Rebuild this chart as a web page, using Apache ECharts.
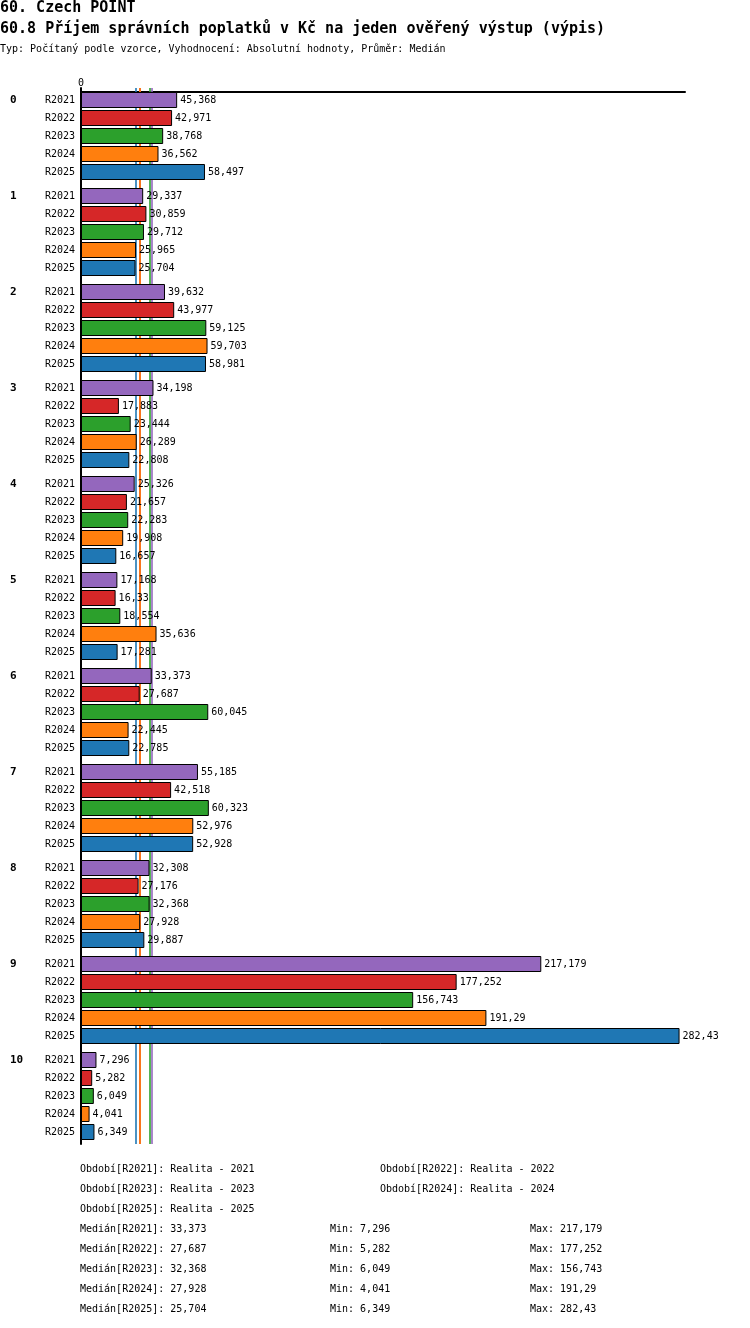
<!DOCTYPE html>
<html><head><meta charset="utf-8">
<script src="https://cdn.jsdelivr.net/npm/echarts@6/dist/echarts.min.js"></script>
<style>html,body{margin:0;padding:0;background:#fff}#c{width:750px;height:1328px}</style>
</head><body><div id="c"></div>
<script>
const categories = ['0','1','2','3','4','5','6','7','8','9','10'];
const periods = ['R2021','R2022','R2023','R2024','R2025'];
const periodNames = ['Realita - 2021','Realita - 2022','Realita - 2023','Realita - 2024','Realita - 2025'];
const r2021 = [45.368, 29.337, 39.632, 34.198, 25.326, 17.168, 33.373, 55.185, 32.308, 217.179, 7.296];
const r2022 = [42.971, 30.859, 43.977, 17.883, 21.657, 16.33, 27.687, 42.518, 27.176, 177.252, 5.282];
const r2023 = [38.768, 29.712, 59.125, 23.444, 22.283, 18.554, 60.045, 60.323, 32.368, 156.743, 6.049];
const r2024 = [36.562, 25.965, 59.703, 26.289, 19.908, 35.636, 22.445, 52.976, 27.928, 191.29, 4.041];
const r2025 = [58.497, 25.704, 58.981, 22.808, 16.657, 17.281, 22.785, 52.928, 29.887, 282.43, 6.349];
const seriesValues = [r2021, r2022, r2023, r2024, r2025];
const colors = ['#9467bd','#d62728','#2ca02c','#ff7f0e','#1f77b4'];
const titleText = '60. Czech POINT';
const subtitleText = '60.8 Příjem správních poplatků v Kč na jeden ověřený výstup (výpis)';
const infoText = 'Typ: Počítaný podle vzorce, Vyhodnocení: Absolutní hodnoty, Průměr: Medián';

const MONO = '"DejaVu Sans Mono", "Liberation Mono", monospace';
const fmt = v => String(v).replace('.', ',');
const median = a => { const s = a.slice().sort((x,y)=>x-y); return s[Math.floor(s.length/2)]; };
const stats = seriesValues.map(a => ({ med: median(a), min: Math.min(...a), max: Math.max(...a) }));

const series = [];
periods.forEach((p, i) => {
  series.push({
    type: 'line', name: p + '_median', data: [], z: 1, silent: true,
    markLine: {
      silent: true, symbol: ['none', 'none'], z: 1,
      label: { show: false },
      lineStyle: { color: colors[i], width: 1.6, type: 'solid', opacity: 1 },
      data: [{ xAxis: stats[i].med }]
    }
  });
});
periods.forEach((p, i) => {
  series.push({
    type: 'bar', name: p + '_lbl', stack: p, barWidth: 16, barGap: '12.5%', z: 2,
    data: categories.map(() => 0),
    itemStyle: { color: 'rgba(0,0,0,0)', borderWidth: 0 },
    label: { show: true, position: 'left', distance: 6, formatter: p, color: '#000', fontFamily: MONO, fontSize: 10 },
    silent: true
  });
  series.push({
    type: 'bar', name: p, stack: p, barWidth: 16, barGap: '12.5%', z: 3,
    data: seriesValues[i],
    itemStyle: { color: colors[i], borderColor: '#000', borderWidth: 1 },
    label: { show: true, position: 'right', distance: 3, formatter: d => fmt(d.value), color: '#000', fontFamily: MONO, fontSize: 10 },
    silent: true
  });
});

const graphics = [];
const txt = (x, y, text, size, bold) => graphics.push({
  type: 'text', left: x, top: y,
  style: { text, fill: '#000', font: (bold ? 'bold ' : '') + size + 'px ' + MONO }
});
txt(0, 1, titleText, 15, true);
txt(0, 22, subtitleText, 15, true);
txt(0, 44, infoText, 10, false);
periods.forEach((p, i) => {
  const row = Math.floor(i / 2), col = i % 2;
  txt(col ? 380 : 80, 1164 + row * 20, 'Období[' + p + ']: ' + periodNames[i], 10, false);
});
periods.forEach((p, i) => {
  const y = 1224 + i * 20;
  txt(80, y, 'Medián[' + p + ']: ' + fmt(stats[i].med), 10, false);
  txt(330, y, 'Min: ' + fmt(stats[i].min), 10, false);
  txt(530, y, 'Max: ' + fmt(stats[i].max), 10, false);
});

const chart = echarts.init(document.getElementById('c'), null, { renderer: 'canvas' });
chart.setOption({
  animation: false,
  backgroundColor: '#fff',
  grid: { left: 81, right: 65, top: 88, bottom: 184, containLabel: false },
  xAxis: {
    type: 'value', position: 'top', min: 0, max: 285, interval: 285, offset: -4,
    axisLine: { show: true, lineStyle: { color: '#000', width: 2 } },
    axisTick: { show: false }, splitLine: { show: false },
    axisLabel: { formatter: v => v === 0 ? '0' : '', color: '#000', fontFamily: MONO, fontSize: 10, margin: 4 }
  },
  yAxis: {
    type: 'category', inverse: true, data: categories,
    axisLine: { show: true, lineStyle: { color: '#000', width: 2 } },
    axisTick: { show: false },
    axisLabel: {
      align: 'left', margin: 71, color: '#000',
      formatter: v => '{g|' + v + '}',
      rich: { g: { fontWeight: 'bold', fontFamily: MONO, fontSize: 11, color: '#000', padding: [0, 0, 72, 0] } }
    }
  },
  series,
  graphic: graphics
});
</script></body></html>
